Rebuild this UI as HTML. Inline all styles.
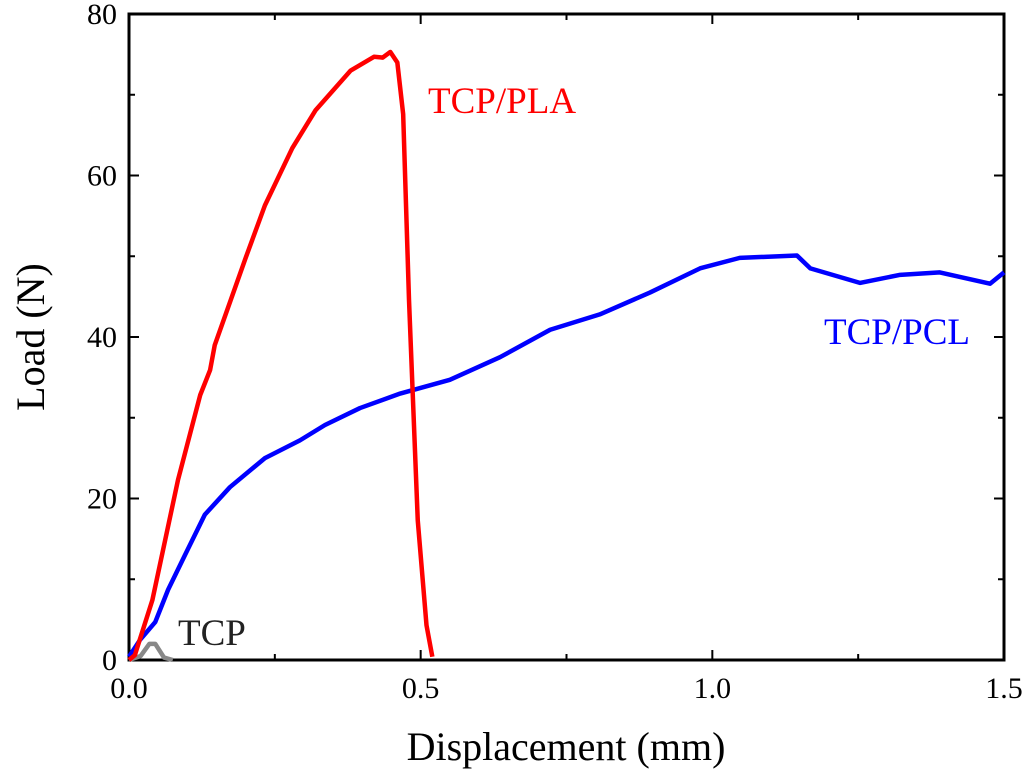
<!DOCTYPE html>
<html><head><meta charset="utf-8"><style>
html,body{margin:0;padding:0;background:#fff;}
svg{display:block;font-family:"Liberation Serif",serif;}
</style></head><body>
<svg id="chart" width="1024" height="771">
<g id="plot"></g>
</svg>
<script>
const xTicks=[0.0,0.5,1.0,1.5];
const xTickLabels=["0.0","0.5","1.0","1.5"];
const yTicks=[0,20,40,60,80];
const yTickLabels=["0","20","40","60","80"];
const plaX=[0,0.01,0.04,0.084,0.122,0.139,0.147,0.2,0.233,0.28,0.32,0.38,0.42,0.435,0.448,0.46,0.47,0.48,0.495,0.51,0.52];
const plaY=[0,0.6,7.4,22.3,32.8,35.9,39,49.8,56.3,63.4,68.1,73,74.7,74.6,75.3,74,67.6,44.6,17.3,4.3,0.4];
const pclX=[0,0.019,0.045,0.067,0.096,0.13,0.173,0.233,0.293,0.336,0.396,0.465,0.55,0.636,0.722,0.807,0.893,0.979,1.047,1.082,1.145,1.168,1.253,1.322,1.39,1.476,1.5];
const pclY=[0.4,2.5,4.7,8.7,13,18,21.4,25,27.2,29.1,31.2,33,34.7,37.5,40.9,42.8,45.5,48.5,49.8,49.9,50.1,48.5,46.7,47.7,48,46.6,48];
const tcpX=[0,0.02,0.035,0.045,0.06,0.075];
const tcpY=[0,0.5,2,2,0.3,0];
const L=129,R=1004,T=14,B=660;
const sx=v=>L+(v-0)/1.5*(R-L);
const sy=v=>B-(v-0)/80*(B-T);
const NS="http://www.w3.org/2000/svg";
const g=document.getElementById('plot');
function mk(tag,attrs,parent){const e=document.createElementNS(NS,tag);for(const k in attrs)e.setAttribute(k,attrs[k]);(parent||g).appendChild(e);return e;}
const fr=mk('rect',{x:L,y:T,width:R-L,height:B-T,fill:'none',stroke:'#000','stroke-width':3});


for(let i=0;i<xTicks.length;i++){
  const x=sx(xTicks[i]);
  mk('line',{x1:x,y1:B,x2:x,y2:B-10,stroke:'#000','stroke-width':2});
  mk('line',{x1:x,y1:T,x2:x,y2:T+10,stroke:'#000','stroke-width':2});
  const t=mk('text',{x:x,y:B+38,'font-size':30,'text-anchor':'middle'});t.textContent=xTickLabels[i];
  
  
  if(i<xTicks.length-1){const m=sx(xTicks[i]+0.25);
    mk('line',{x1:m,y1:B,x2:m,y2:B-6,stroke:'#000','stroke-width':2});
    mk('line',{x1:m,y1:T,x2:m,y2:T+6,stroke:'#000','stroke-width':2});}
}
for(let i=0;i<yTicks.length;i++){
  const y=sy(yTicks[i]);
  mk('line',{x1:L,y1:y,x2:L+10,y2:y,stroke:'#000','stroke-width':2});
  mk('line',{x1:R,y1:y,x2:R-10,y2:y,stroke:'#000','stroke-width':2});
  const t=mk('text',{x:L-12,y:y+10,'font-size':30,'text-anchor':'end'});t.textContent=yTickLabels[i];
  
  
  if(i<yTicks.length-1){const m=sy(yTicks[i]+10);
    mk('line',{x1:L,y1:m,x2:L+6,y2:m,stroke:'#000','stroke-width':2});
    mk('line',{x1:R,y1:m,x2:R-6,y2:m,stroke:'#000','stroke-width':2});}
}
function series(xs,ys,color,name){
  const p=mk('polyline',{points:xs.map((x,i)=>sx(x)+','+sy(ys[i])).join(' '),fill:'none',stroke:color,'stroke-width':4.5,'stroke-linejoin':'round'});
  
  
}
series(tcpX,tcpY,'#888','tcp-line');
series(pclX,pclY,'#0000ff','tcp-pcl-line');
series(plaX,plaY,'#ff0000','tcp-pla-line');
function label(txt,x,y,color,size,name,extra){
  const t=mk('text',Object.assign({x:x,y:y,'font-size':size,fill:color},extra||{}));t.textContent=txt;
  
  
}
label('TCP/PLA',428,113,'#ff0000',37,'tcp-pla-label');
label('TCP/PCL',824,344,'#0000ff',37,'tcp-pcl-label');
label('TCP',178,645,'#222',37,'tcp-label');
label('Displacement (mm)',566,760,'#000',40,'x-axis-title',{'text-anchor':'middle'});
label('Load (N)',0,0,'#000',40,'y-axis-title',{'text-anchor':'middle',transform:'translate(44,337) rotate(-90)'});
</script>
</body></html>
